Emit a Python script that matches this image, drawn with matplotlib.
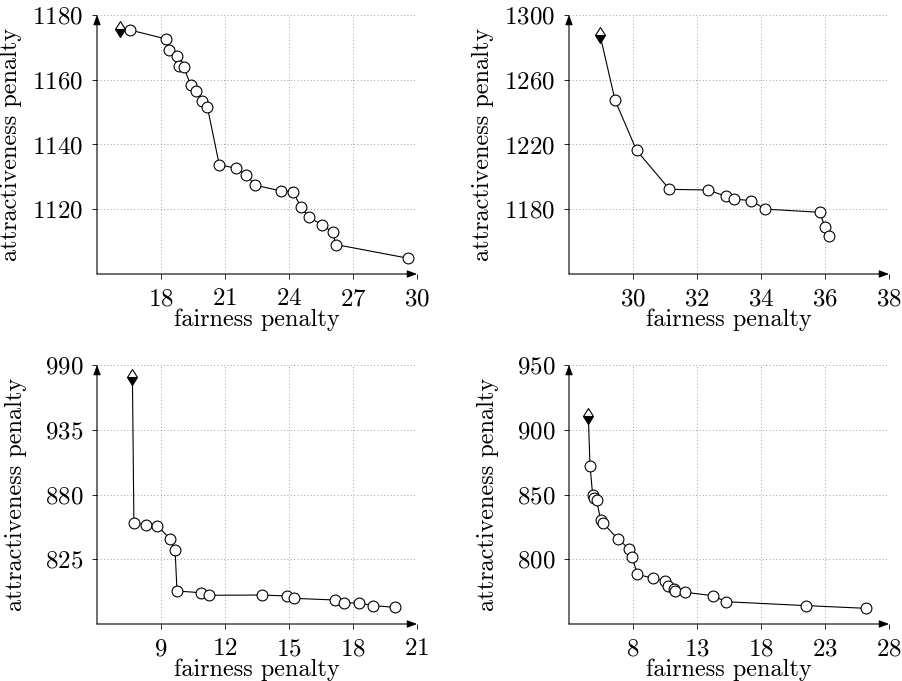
import numpy as np
import matplotlib
matplotlib.use("Agg")
import matplotlib.pyplot as plt

plt.rcParams['font.family'] = ['cmr10', 'DejaVu Serif']
plt.rcParams['axes.formatter.use_mathtext'] = True

# panel (a) - top left; first point is the diamond (reference solution)
fair_a = [16.06, 16.53, 18.23, 18.36, 18.77, 18.84, 19.06, 19.39, 19.66, 19.92, 20.17,
          20.73, 21.53, 21.98, 22.42, 23.61, 24.19, 24.56, 24.95, 25.56, 26.05, 26.19, 29.56]
attr_a = [1175.6, 1175.4, 1172.6, 1169.2, 1167.4, 1164.3, 1164.0, 1158.4, 1156.5, 1153.4, 1151.7,
          1133.8, 1132.6, 1130.7, 1127.4, 1125.7, 1125.4, 1120.6, 1117.5, 1115.1, 1112.9, 1109.1, 1104.9]

# panel (b) - top right
fair_b = [28.97, 29.44, 30.11, 31.14, 32.35, 32.90, 33.16, 33.70, 34.13, 35.83, 36.00, 36.14]
attr_b = [1287.6, 1247.3, 1216.4, 1192.3, 1191.9, 1188.0, 1186.3, 1185.3, 1180.1, 1178.1, 1169.2, 1163.5]

# panel (c) - bottom left
fair_c = [7.66, 7.73, 8.30, 8.83, 9.41, 9.66, 9.75, 10.86, 11.23, 13.73, 14.91, 15.22,
          17.14, 17.58, 18.28, 18.94, 19.97]
attr_c = [979.5, 856.1, 854.4, 853.5, 842.5, 832.9, 798.0, 796.6, 794.4, 794.6, 793.8, 791.8,
          790.4, 788.1, 787.8, 785.6, 784.2]

# panel (d) - bottom right
fair_d = [4.51, 4.64, 4.85, 4.98, 5.16, 5.47, 5.68, 6.83, 7.71, 7.92, 8.34, 9.54, 10.47,
          10.71, 11.18, 11.31, 12.06, 14.22, 15.27, 21.52, 26.20]
attr_d = [910.6, 872.3, 849.6, 847.6, 845.8, 830.3, 827.7, 815.6, 807.9, 802.0, 788.4, 785.3, 783.5,
          779.3, 777.0, 775.7, 774.5, 771.9, 767.2, 764.2, 762.1]

panels = [
    (fair_a, attr_a, (15, 30), (1100, 1180), [18, 21, 24, 27, 30], [1120, 1140, 1160, 1180]),
    (fair_b, attr_b, (28, 38), (1140, 1300), [30, 32, 34, 36, 38], [1180, 1220, 1260, 1300]),
    (fair_c, attr_c, (6, 21), (770, 990), [9, 12, 15, 18, 21], [825, 880, 935, 990]),
    (fair_d, attr_d, (3, 28), (750, 950), [8, 13, 18, 23, 28], [800, 850, 900, 950]),
]

W, H = 902, 681
boxes = [(97, 15), (569, 15), (97, 365), (569, 365)]  # left, top in px
ylab_x = [-0.234, -0.234, -0.218, -0.218]  # 4-digit vs 3-digit tick labels
bw, bh = 320, 259

fig = plt.figure(figsize=(W / 100, H / 100), dpi=100)

arrow = dict(arrowstyle='-|>,head_length=0.45,head_width=0.17', color='black',
             lw=0.8, shrinkA=0, shrinkB=0, mutation_scale=13)

for (fx, ay, xl, yl, xt, yt), (left, top), lx in zip(panels, boxes, ylab_x):
    ax = fig.add_axes([left / W, 1 - (top + bh) / H, bw / W, bh / H])
    ax.plot(fx, ay, color='black', lw=0.8, zorder=3)
    ax.plot(fx[1:], ay[1:], 'o', ms=7.8, mfc='white', mec='black', mew=0.8, zorder=4)
    ax.plot(fx[0], ay[0], 'd', ms=8.5, fillstyle='bottom', mfc='black',
            markerfacecoloralt='white', mec='black', mew=0.8, zorder=5)
    ax.set_xlim(*xl)
    ax.set_ylim(*yl)
    ax.set_xticks(xt)
    ax.set_yticks(yt)
    ax.grid(True, linestyle=(0, (1, 3)), color='gray', lw=0.6)
    for s in ax.spines.values():
        s.set_visible(False)
    ax.tick_params(direction='out', length=3.5, width=0.6, labelsize=18, pad=6.5)
    ax.annotate('', xy=(1, 0), xytext=(0, 0), xycoords='axes fraction', arrowprops=arrow)
    ax.annotate('', xy=(0, 1), xytext=(0, 0), xycoords='axes fraction', arrowprops=arrow)
    ax.set_xlabel('fairness penalty', fontsize=17.5)
    ax.set_ylabel('attractiveness penalty', fontsize=17.5)
    ax.xaxis.set_label_coords(0.5, -0.135)
    ax.yaxis.set_label_coords(lx, 0.5)

fig.savefig('out.png', dpi=100)
